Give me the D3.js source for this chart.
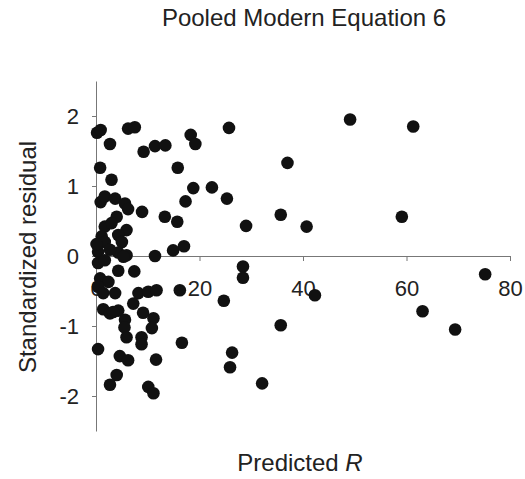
<!DOCTYPE html>
<html>
<head>
<meta charset="utf-8">
<script src="https://cdn.jsdelivr.net/npm/d3@7"></script>
<style>
  body { margin: 0; background: #fff; }
  svg { display: block; font-family: "Liberation Sans", Arial, sans-serif; }
</style>
</head>
<body>
<svg class="vis" width="525" height="479"></svg>
<script>
// Predicted R (x) and standardized residual (y)
const predictedR = [
  0.2, 0.9, 2.7, 6.2, 7.5, 9.2, 11.4, 13.4, 18.3, 19.2, 25.7, 49.1, 61.3,
  0.8, 3.0, 15.8, 37.0, 18.8, 22.4, 25.3, 17.3, 0.9, 1.7, 3.7, 5.6, 6.2,
  8.9, 13.3, 15.7, 29.0, 35.7, 40.7, 59.1, 4.0, 5.9, 1.7, 3.0, 1.1, 4.3,
  1.7, 5.0, 0.4, 4.3, 5.9, 11.4, 14.9, 17.0, 2.7, 0.1,
  28.4, 28.4, 42.3, 35.7, 32.1, 63.1, 69.4, 75.2, 24.7, 16.2, 16.6, 26.3,
  25.9, 11.6, 0.4, 1.7, 4.3, 7.4, 0.8, 2.4, 0.4, 1.4, 3.7, 8.2, 10.1, 11.7,
  7.2, 1.4, 2.7, 4.3, 9.1, 11.1, 5.6, 5.5, 10.8, 5.9, 8.8, 8.8, 0.4, 4.6,
  6.2, 4.0, 2.7, 10.1, 11.1, 5.3, 3.3
];
const residual = [
  1.76, 1.80, 1.60, 1.82, 1.84, 1.49, 1.57, 1.58, 1.73, 1.60, 1.83, 1.95, 1.85,
  1.26, 1.09, 1.26, 1.33, 0.97, 0.98, 0.82, 0.78, 0.77, 0.85, 0.82, 0.75, 0.67,
  0.63, 0.56, 0.49, 0.43, 0.59, 0.42, 0.56, 0.56, 0.37, 0.42, 0.47, 0.28, 0.30,
  0.20, 0.20, 0.06, 0.05, 0.01, 0.00, 0.08, 0.14, 0.09, 0.17,
  -0.15, -0.31, -0.56, -0.99, -1.82, -0.79, -1.05, -0.26, -0.64, -0.49, -1.24, -1.38,
  -1.59, -1.48, -0.10, -0.06, -0.21, -0.22, -0.32, -0.37, -0.44, -0.53, -0.53, -0.53, -0.51, -0.49,
  -0.68, -0.76, -0.82, -0.78, -0.81, -0.89, -0.91, -1.02, -1.03, -1.16, -1.16, -1.26, -1.33, -1.43,
  -1.49, -1.70, -1.84, -1.87, -1.96, -0.01, -0.80
];
const xTicks = [0, 20, 40, 60, 80];
const yTicks = [-2, -1, 0, 1, 2];

const points = predictedR.map((r, i) => ({ x: r, y: residual[i] }));

const svg = d3.select("svg.vis");

const x = d3.scaleLinear().domain([0, 80]).range([96, 510]);
const y = d3.scaleLinear().domain([-2.5, 2.5]).range([431, 81]);

// plain hyphen minus, no decimals, like the original
const fmt = d => String(d);

// y axis
const yAxis = svg.append("g")
  .attr("transform", `translate(${x(0)},0)`)
  .call(d3.axisLeft(y).tickValues(yTicks).tickFormat(fmt)
    .tickSize(4).tickSizeOuter(0).tickPadding(13));

// x axis on the zero line
const xAxis = svg.append("g")
  .attr("transform", `translate(0,${y(0)})`)
  .call(d3.axisBottom(x).tickValues(xTicks).tickFormat(fmt)
    .tickSize(5).tickSizeOuter(0).tickPadding(19));

[yAxis, xAxis].forEach(g => {
  g.select(".domain").attr("stroke", "#777");
  g.selectAll(".tick line").attr("stroke", "#777");
  g.selectAll(".tick text")
    .attr("fill", "#222")
    .style("font-size", "22px")
    .style("font-family", "'Liberation Sans', Arial, sans-serif");
});

// dots
svg.append("g")
  .selectAll("circle")
  .data(points)
  .join("circle")
  .attr("cx", d => x(d.x))
  .attr("cy", d => y(d.y))
  .attr("r", 6.3)
  .attr("fill", "#111");

// title
svg.append("text")
  .attr("x", 304)
  .attr("y", 26)
  .attr("text-anchor", "middle")
  .attr("fill", "#222")
  .style("font-size", "24px")
  .text("Pooled Modern Equation 6");

// y label
svg.append("text")
  .attr("transform", "translate(36,257) rotate(-90)")
  .attr("text-anchor", "middle")
  .attr("fill", "#222")
  .style("font-size", "24px")
  .text("Standardized residual");

// x label
const xl = svg.append("text")
  .attr("x", 300)
  .attr("y", 471)
  .attr("text-anchor", "middle")
  .attr("fill", "#222")
  .style("font-size", "24px");
xl.append("tspan").text("Predicted ");
xl.append("tspan").style("font-style", "italic").text("R");
</script>
</body>
</html>
